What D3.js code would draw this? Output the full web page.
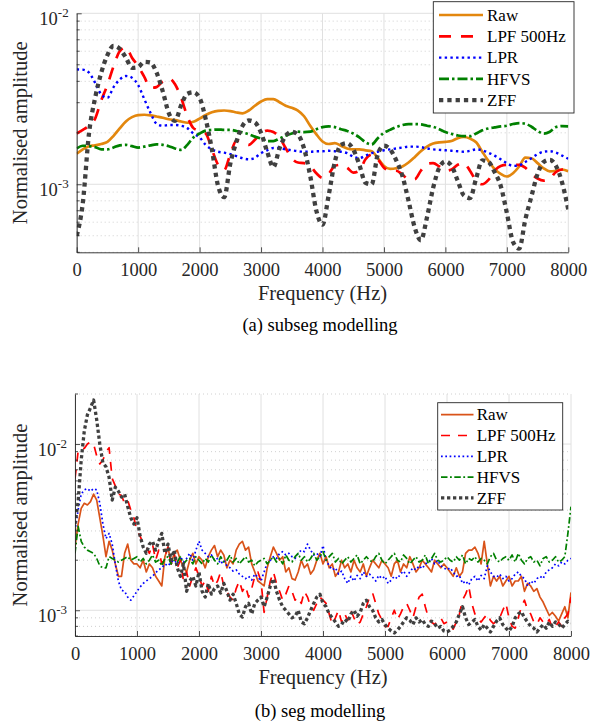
<!DOCTYPE html>
<html>
<head>
<meta charset="utf-8">
<script src="https://cdn.jsdelivr.net/npm/d3@7"></script>
<style>
  body { margin: 0; background: #fff; }
  svg { display: block; }
  text, tspan { font-family: 'Liberation Serif' !important; }
</style>
</head>
<body>
<svg id="chart" width="597" height="723"></svg>
<script>
// all amplitudes are in units of 1e-3
const seriesNames = ["Raw", "LPF 500Hz", "LPR", "HFVS", "ZFF"];
const xTicks = [0, 1000, 2000, 3000, 4000, 5000, 6000, 7000, 8000];

// (a) subseg modelling, sampled every 100 Hz
const topFreq = d3.range(0, 8001, 100);
const topRaw = [1.51, 1.6, 1.67, 1.69, 1.72, 1.77, 1.92, 2.12, 2.33, 2.47, 2.54,
  2.55, 2.53, 2.49, 2.45, 2.4, 2.37, 2.33, 2.29, 2.32, 2.42,
  2.54, 2.64, 2.69, 2.7, 2.68, 2.63, 2.6, 2.7, 2.88, 3.05,
  3.15, 3.15, 3.02, 2.88, 2.8, 2.7, 2.5, 2.2, 1.96, 1.78,
  1.72, 1.74, 1.68, 1.62, 1.6, 1.6, 1.58, 1.56, 1.42, 1.28,
  1.23, 1.24, 1.27, 1.34, 1.44, 1.56, 1.66, 1.73, 1.76, 1.77,
  1.79, 1.86, 1.89, 1.85, 1.76, 1.55, 1.37, 1.23, 1.15, 1.11,
  1.16, 1.27, 1.43, 1.42, 1.33, 1.24, 1.19, 1.2, 1.22, 1.19];
const topLpf = [1.98, 2.08, 2.2, 2.42, 3.1, 3.81, 4.9, 6.0, 6.33, 5.5, 4.9,
  4.25, 3.66, 3.7, 4.0, 4.16, 3.85, 3.2, 2.5, 2.13, 2.05,
  1.98, 1.6, 1.3, 1.21, 1.5, 1.8, 1.78, 1.7, 1.82, 1.98,
  2.06, 2.02, 1.88, 1.63, 1.42, 1.34, 1.33, 1.28, 1.16, 1.09,
  1.15, 1.28, 1.3, 1.25, 1.17, 1.2, 1.4, 1.49, 1.4, 1.25,
  1.2, 1.2, 1.14, 1.07, 1.07, 1.2, 1.32, 1.33, 1.27, 1.2,
  1.22, 1.3, 1.33, 1.2, 1.05, 1.0, 1.06, 1.2, 1.28, 1.3,
  1.3, 1.3, 1.25, 1.15, 1.08, 1.05, 1.08, 1.18, 1.22, 1.22];
const topLpr = [4.7, 4.68, 4.5, 3.92, 3.35, 3.2, 3.7, 4.1, 4.3, 4.2, 3.8,
  3.15, 2.62, 2.26, 2.2, 2.22, 2.22, 2.2, 2.13, 1.98, 1.88,
  1.7, 1.6, 1.55, 1.53, 1.5, 1.46, 1.42, 1.4, 1.43, 1.52,
  1.58, 1.63, 1.63, 1.6, 1.58, 1.56, 1.55, 1.55, 1.56, 1.56,
  1.57, 1.56, 1.55, 1.52, 1.45, 1.42, 1.47, 1.52, 1.55, 1.58,
  1.6, 1.62, 1.64, 1.66, 1.66, 1.65, 1.62, 1.6, 1.59, 1.58,
  1.57, 1.56, 1.55, 1.57, 1.6, 1.58, 1.53, 1.47, 1.4, 1.33,
  1.28, 1.29, 1.35, 1.42, 1.5, 1.55, 1.56, 1.53, 1.47, 1.41];
const topHfvs = [1.62, 1.68, 1.67, 1.65, 1.6, 1.6, 1.64, 1.69, 1.7, 1.67, 1.64,
  1.66, 1.69, 1.71, 1.7, 1.67, 1.62, 1.59, 1.7, 1.88, 1.98,
  2.06, 2.08, 2.09, 2.08, 2.08, 2.05, 2.01, 1.96, 1.9, 1.85,
  1.79, 1.79, 1.85, 1.92, 1.98, 2.03, 2.02, 2.03, 2.1, 2.16,
  2.18, 2.16, 2.1, 2.05, 1.98, 1.88, 1.76, 1.71, 1.86, 2.0,
  2.08, 2.16, 2.22, 2.25, 2.25, 2.24, 2.2, 2.17, 2.1, 2.02,
  1.97, 1.93, 1.91, 1.91, 1.98, 2.07, 2.12, 2.15, 2.18, 2.2,
  2.25, 2.28, 2.26, 2.17, 2.05, 1.98, 2.03, 2.16, 2.19, 2.18];
const topZff = [0.5, 0.78, 1.98, 3.2, 4.5, 5.7, 6.45, 6.2, 5.5, 4.8, 4.85,
  5.2, 5.15, 4.5, 3.5, 2.6, 2.35, 2.9, 3.38, 3.45, 3.2,
  2.4, 1.6, 0.98, 0.84, 1.32, 1.78, 2.2, 2.36, 2.3, 2.0,
  1.55, 1.26, 1.62, 1.92, 2.03, 1.95, 1.62, 1.12, 0.7, 0.58,
  0.86, 1.35, 1.7, 1.74, 1.6, 1.3, 1.02, 1.0, 1.5, 1.68,
  1.6, 1.38, 1.12, 0.8, 0.56, 0.47, 0.64, 0.95, 1.25, 1.36,
  1.28, 1.05, 0.86, 0.83, 1.08, 1.38, 1.35, 1.18, 0.98, 0.68,
  0.46, 0.42, 0.62, 0.85, 1.15, 1.35, 1.39, 1.28, 1.02, 0.71];

// (b) seg modelling, sampled every 50 Hz
const botFreq = d3.range(0, 8001, 50);
const botRaw = [2.4, 3.3, 4.1, 4.4, 4.3, 4.5, 5.0, 4.6, 3.6, 2.8, 2.1, 2.6, 2.3, 1.9, 1.6, 1.6, 2.2, 2.5, 2.0, 1.9, 1.9,
  1.8, 2.0, 1.7, 1.9, 1.8, 1.6, 1.5, 1.4, 2.1, 2.4, 1.9, 2.2, 2.3, 2.0, 1.8, 1.7, 2.0, 2.2, 1.9, 2.1,
  2.0, 1.8, 2.1, 2.3, 2.45, 2.1, 2.3, 2.15, 1.8, 2.0, 1.9, 2.3, 2.5, 2.6, 2.3, 2.4, 1.9, 1.7, 1.5, 1.45,
  1.4, 1.8, 2.1, 2.4, 2.2, 2.0, 2.1, 1.7, 1.8, 1.55, 1.52, 1.7, 2.0, 1.8, 1.9, 1.65, 1.75, 2.0, 2.2, 1.9,
  2.1, 1.8, 1.9, 1.6, 1.7, 2.0, 1.8, 1.9, 1.7, 2.0, 1.8, 1.7, 1.9, 1.6, 1.8, 2.0, 1.9, 1.8, 2.0, 1.9,
  1.8, 1.6, 1.9, 2.0, 1.7, 1.9, 1.8, 2.1, 1.9, 1.7, 1.8, 2.0, 1.9, 1.8, 1.7, 2.0, 1.9, 1.8, 1.9, 1.8,
  1.7, 1.6, 1.8, 1.6, 1.7, 2.2, 2.3, 2.3, 2.4, 2.2, 1.9, 2.6, 1.9, 1.4, 1.6, 1.5, 1.6, 1.4, 1.5, 1.6,
  1.4, 1.5, 1.5, 1.6, 1.3, 1.45, 1.4, 1.3, 1.35, 1.2, 1.12, 1.02, 0.93, 0.97, 0.92, 0.86, 0.95, 1.05, 0.9, 1.28];
const botLpf = [6.2, 9.0, 9.5, 9.4, 10.0, 10.3, 10.0, 8.5, 7.6, 8.0, 9.0, 9.5, 6.2, 5.6, 5.0, 4.9, 4.4, 4.6, 4.0, 3.6, 3.0,
  2.8, 2.5, 2.4, 2.2, 2.5, 2.0, 2.3, 1.9, 2.1, 2.4, 1.9, 2.2, 1.8, 2.0, 1.5, 1.7, 1.4, 1.6, 1.8, 1.6,
  1.4, 1.5, 1.3, 1.6, 1.4, 1.5, 1.7, 1.4, 1.3, 1.2, 1.15, 1.35, 1.5, 1.3, 1.4, 1.2, 1.35, 1.6, 1.7, 1.5,
  0.97, 1.2, 1.5, 1.7, 1.45, 1.3, 1.15, 1.25, 1.4, 1.3, 1.15, 1.2, 1.1, 1.3, 1.2, 1.05, 1.0, 1.1, 1.2, 1.15,
  1.1, 0.95, 0.82, 0.9, 1.0, 0.85, 0.95, 0.87, 1.0, 0.9, 0.82, 0.85, 0.95, 1.05, 1.2, 1.27, 1.1, 0.95, 0.88, 0.8,
  0.8, 0.9, 1.0, 0.88, 0.95, 1.05, 1.1, 1.0, 0.9, 1.05, 1.2, 1.25, 1.05, 0.9, 0.85, 0.82, 0.87, 0.9, 0.83, 0.85,
  0.8, 0.77, 0.85, 0.95, 1.15, 1.25, 1.4, 1.1, 0.95, 0.88, 0.85, 0.9, 0.95, 0.87, 0.83, 0.86, 0.9, 1.0, 1.1, 0.9,
  0.8, 0.78, 0.9, 1.05, 1.15, 1.0, 0.95, 0.85, 0.82, 0.9, 0.85, 0.82, 0.88, 0.78, 0.8, 0.85, 0.8, 0.9, 0.95, 1.2];
const botLpr = [3.0, 4.0, 5.0, 5.3, 5.4, 5.2, 5.4, 5.3, 4.4, 3.3, 2.7, 2.9, 2.5, 1.9, 1.5, 1.32, 1.3, 1.2, 1.15, 1.22, 1.3,
  1.38, 1.45, 1.5, 1.55, 1.6, 1.68, 1.75, 1.8, 1.9, 1.85, 1.95, 2.0, 1.9, 2.1, 1.95, 2.05, 2.2, 2.0, 2.3, 2.6,
  2.3, 2.2, 2.1, 2.15, 2.0, 2.05, 1.9, 2.0, 1.85, 1.8, 1.72, 1.75, 1.65, 1.6, 1.55, 1.6, 1.52, 1.65, 1.58, 1.5,
  1.7, 1.92, 2.0, 2.1, 2.05, 2.2, 2.25, 2.15, 2.2, 2.1, 2.05, 2.2, 2.3, 2.25, 2.5, 2.3, 2.15, 2.2, 2.1, 2.45,
  2.0, 1.85, 1.75, 1.8, 1.65, 1.72, 1.55, 1.45, 1.6, 1.5, 1.62, 1.55, 1.7, 1.6, 1.65, 1.58, 1.5, 1.62, 1.55, 1.6,
  1.45, 1.52, 1.6, 1.55, 1.65, 1.72, 1.6, 1.7, 1.8, 1.75, 1.85, 1.78, 1.9, 1.95, 2.05, 1.9, 2.0, 1.85, 1.8, 1.75,
  1.8, 1.7, 1.6, 1.62, 1.45, 1.5, 1.42, 1.55, 1.6, 1.5, 1.62, 1.55, 1.85, 1.7, 1.6, 1.58, 1.65, 1.55, 1.6, 1.5,
  1.55, 1.65, 1.7, 1.6, 1.55, 1.4, 1.5, 1.45, 1.55, 1.6, 1.55, 1.7, 1.75, 1.8, 1.9, 1.85, 1.95, 1.9, 2.0, 2.05];
const botHfvs = [2.2, 3.2, 2.6, 2.4, 2.3, 2.25, 2.2, 2.05, 1.85, 1.8, 1.8, 2.1, 2.05, 2.0, 1.95, 2.0, 2.05, 2.1, 2.0, 2.05, 2.1,
  1.95, 2.05, 1.9, 2.0, 2.15, 1.95, 2.0, 1.85, 2.05, 2.1, 1.9, 2.0, 1.95, 2.1, 1.9, 2.0, 2.05, 1.9, 2.1, 2.0,
  1.9, 2.05, 1.95, 2.15, 2.0, 1.9, 2.1, 1.95, 2.0, 2.15, 1.95, 2.05, 1.9, 2.0, 2.1, 1.95, 2.0, 1.85, 1.95, 2.0,
  2.05, 1.9, 2.0, 2.1, 1.95, 2.05, 1.9, 2.15, 2.0, 1.95, 2.1, 2.2, 2.0, 2.1, 1.95, 2.05, 2.2, 2.0, 2.1, 2.25,
  2.0, 2.1, 2.2, 1.95, 2.05, 1.9, 2.0, 2.1, 1.95, 2.05, 2.15, 1.9, 2.0, 2.1, 2.0, 1.95, 2.1, 2.2, 2.0, 1.9,
  2.0, 2.1, 2.2, 2.0, 1.95, 2.15, 2.05, 1.9, 2.0, 2.1, 1.95, 2.0, 2.15, 1.9, 2.05, 2.2, 2.0, 1.95, 2.0, 2.1,
  2.0, 1.95, 2.1, 2.0, 2.15, 1.9, 2.05, 2.0, 2.1, 1.95, 2.05, 2.0, 1.9, 2.1, 2.2, 2.0, 1.95, 2.05, 2.1, 2.0,
  2.15, 1.95, 2.2, 2.0, 1.9, 2.05, 2.1, 1.95, 2.0, 1.85, 2.05, 2.1, 1.95, 2.0, 2.1, 1.95, 2.0, 2.1, 2.9, 4.2];
const botZff = [3.3, 4.5, 8.0, 12.0, 15.0, 16.5, 18.4, 14.0, 10.0, 7.7, 7.3, 6.3, 4.6, 5.5, 5.2, 4.8, 5.0, 4.2, 3.6, 3.3, 3.6,
  2.8, 2.4, 2.2, 2.5, 2.6, 2.3, 2.6, 2.9, 2.2, 2.5, 2.0, 2.3, 1.8, 1.6, 1.9, 1.3, 1.5, 1.6, 1.4, 1.7,
  1.3, 1.2, 1.45, 1.25, 1.35, 1.4, 1.27, 1.45, 1.3, 1.15, 1.25, 1.1, 0.95, 0.91, 1.05, 1.1, 0.95, 1.1, 1.15, 1.2,
  1.05, 1.2, 1.4, 1.55, 1.3, 1.15, 1.05, 1.0, 0.95, 0.9, 0.92, 1.0, 0.85, 0.83, 0.9, 1.0, 1.1, 1.2, 1.25, 1.1,
  1.05, 0.95, 0.9, 0.85, 0.8, 0.82, 0.88, 0.85, 0.95, 1.0, 0.92, 0.97, 1.1, 1.15, 1.05, 1.0, 0.9, 0.85, 0.88, 0.82,
  0.78, 0.75, 0.73, 0.76, 0.8, 0.85, 0.9, 0.87, 0.82, 0.9, 0.85, 0.88, 0.82, 0.8, 0.86, 0.83, 0.78, 0.8, 0.75, 0.74,
  0.76, 0.8, 0.85, 0.95, 1.05, 0.9, 0.82, 0.85, 0.88, 0.8, 0.76, 0.82, 0.78, 0.74, 0.8, 0.86, 0.9, 0.82, 0.78, 0.75,
  0.8, 0.9, 0.95, 0.98, 0.9, 0.85, 0.8, 0.78, 0.74, 0.78, 0.82, 0.78, 0.85, 0.8, 0.85, 0.83, 0.78, 0.82, 0.86, 0.84];

// y ticks (in 1e-3 units) and the exponent shown for each major tick
const topYMajor = [1, 10];
const topYMinor = [0.4, 0.5, 0.6, 0.7, 0.8, 0.9, 2, 3, 4, 5, 6, 7, 8, 9];
const botYMajor = [1, 10];
const botYMinor = [0.7, 0.8, 0.9, 2, 3, 4, 5, 6, 7, 8, 9, 20];
const yMajorExp = ["-3", "-2"];

const FONT = "'Liberation Serif'";
const svg = d3.select("#chart");

const panels = [
  {
    id: "a", freq: topFreq, values: [topRaw, topLpf, topLpr, topHfvs, topZff],
    yDomain: [0.4, 10], yMajor: topYMajor, yMinor: topYMinor,
    left: 76.7, right: 568.3, top: 13.3, bottom: 252.3,
    curve: d3.curveMonotoneX,
    styles: [
      { color: "#E3870E", width: 2.7, dash: null },
      { color: "#FF0000", width: 2.7, dash: "12,10" },
      { color: "#0000FF", width: 2.4, dash: "2.4,3.3" },
      { color: "#008000", width: 2.7, dash: "10,3,2.5,3" },
      { color: "#404040", width: 4.3, dash: "4.3,4" }
    ],
    legend: { x: 433.3, y: 1.7, w: 140.7, h: 111.3, rowY: 15, rowGap: 21.3, lx0: 439, lx1: 483, tx: 487 },
    xLabelY: 300, yLabelX: 27, captionY: 331, caption: "(a) subseg modelling"
  },
  {
    id: "b", freq: botFreq, values: [botRaw, botLpf, botLpr, botHfvs, botZff],
    yDomain: [0.7, 20], yMajor: botYMajor, yMinor: botYMinor,
    left: 75, right: 571, top: 394, bottom: 636,
    curve: d3.curveLinear,
    styles: [
      { color: "#D95319", width: 1.7, dash: null },
      { color: "#FF0000", width: 1.7, dash: "9,8" },
      { color: "#0000FF", width: 1.7, dash: "1.7,2.6" },
      { color: "#008000", width: 1.7, dash: "6.5,2.5,1.8,2.5" },
      { color: "#404040", width: 3.3, dash: "3.3,2.7" }
    ],
    legend: { x: 437.7, y: 402.7, w: 125, h: 107.3, rowY: 414.7, rowGap: 20.8, lx0: 441, lx1: 473.5, tx: 476.7 },
    xLabelY: 684, yLabelX: 27, captionY: 717, caption: "(b) seg modelling"
  }
];

panels.forEach(drawPanel);

function addText(parent) {
  return parent.append("text")
    .attr("font-family", "Liberation Serif")
    .style("font-family", FONT);
}

function drawPanel(p) {
  const x = d3.scaleLinear().domain([0, 8000]).range([p.left, p.right]);
  const y = d3.scaleLog().domain(p.yDomain).range([p.bottom, p.top]);
  const g = svg.append("g");

  // minor grid (dotted)
  g.append("g").selectAll("line")
    .data(p.yMinor).enter().append("line")
    .attr("x1", p.left).attr("x2", p.right)
    .attr("y1", d => y(d)).attr("y2", d => y(d))
    .attr("stroke", "#c4c4c4").attr("stroke-width", 0.8)
    .attr("stroke-dasharray", "1,3");

  // major grid
  g.append("g").selectAll("line")
    .data(xTicks).enter().append("line")
    .attr("x1", d => x(d)).attr("x2", d => x(d))
    .attr("y1", p.top).attr("y2", p.bottom)
    .attr("stroke", "#e0e0e0").attr("stroke-width", 1);
  g.append("g").selectAll("line")
    .data(p.yMajor).enter().append("line")
    .attr("x1", p.left).attr("x2", p.right)
    .attr("y1", d => y(d)).attr("y2", d => y(d))
    .attr("stroke", "#e0e0e0").attr("stroke-width", 1);

  // curves
  g.append("clipPath").attr("id", "clip-" + p.id)
    .append("rect")
    .attr("x", p.left).attr("y", p.top)
    .attr("width", p.right - p.left).attr("height", p.bottom - p.top);

  const line = d3.line()
    .x((d, i) => x(p.freq[i]))
    .y(d => y(d))
    .curve(p.curve);

  g.append("g").attr("clip-path", `url(#clip-${p.id})`)
    .selectAll("path")
    .data(p.values).enter().append("path")
    .attr("d", d => line(d))
    .attr("fill", "none")
    .attr("stroke", (d, i) => p.styles[i].color)
    .attr("stroke-width", (d, i) => p.styles[i].width)
    .attr("stroke-dasharray", (d, i) => p.styles[i].dash)
    .attr("stroke-linejoin", "round");

  // axes
  const xAxis = g.append("g")
    .attr("transform", `translate(0,${p.bottom})`)
    .call(d3.axisBottom(x).tickValues(xTicks).tickFormat(d3.format("d"))
      .tickSize(-5).tickSizeOuter(0).tickPadding(11));

  const yAxis = g.append("g")
    .attr("transform", `translate(${p.left},0)`)
    .call(d3.axisLeft(y).tickValues(p.yMajor).tickSize(-5).tickSizeOuter(0).tickPadding(8));

  // minor ticks on the y axis
  g.append("g").selectAll("line")
    .data(p.yMinor).enter().append("line")
    .attr("x1", p.left).attr("x2", p.left + 3)
    .attr("y1", d => y(d)).attr("y2", d => y(d))
    .attr("stroke", "#262626").attr("stroke-width", 0.8);

  [xAxis, yAxis].forEach(a => {
    a.attr("font-family", "Liberation Serif").attr("font-size", 18.5);
    a.select(".domain").attr("stroke", "#262626").attr("stroke-width", 0.9);
    a.selectAll(".tick line").attr("stroke", "#262626").attr("stroke-width", 0.8);
    a.selectAll(".tick text").attr("fill", "#262626")
      .style("font-family", FONT).style("font-size", "18.5px");
  });

  yAxis.selectAll(".tick text").each(function (d, i) {
    const t = d3.select(this).text(null).attr("dy", "11px");
    t.append("tspan").text("10");
    t.append("tspan").attr("dy", "-8").style("font-size", "13px").text(yMajorExp[i]);
  });

  // axis labels
  addText(svg)
    .attr("x", (p.left + p.right) / 2).attr("y", p.xLabelY)
    .attr("text-anchor", "middle")
    .attr("fill", "#262626")
    .style("font-size", "20.5px")
    .text("Frequency (Hz)");

  addText(svg)
    .attr("transform", `translate(${p.yLabelX},${(p.top + p.bottom) / 2}) rotate(-90)`)
    .attr("text-anchor", "middle")
    .attr("fill", "#262626")
    .style("font-size", "20.5px")
    .text("Normalised amplitude");

  addText(svg)
    .attr("x", 320).attr("y", p.captionY)
    .attr("text-anchor", "middle")
    .attr("fill", "#000")
    .style("font-size", "18.5px")
    .text(p.caption);

  // legend
  const L = p.legend;
  const legend = svg.append("g");
  legend.append("rect")
    .attr("x", L.x).attr("y", L.y).attr("width", L.w).attr("height", L.h)
    .attr("fill", "#fff").attr("stroke", "#262626").attr("stroke-width", 0.9);

  const rows = legend.selectAll("g.row")
    .data(seriesNames).enter().append("g")
    .attr("class", "row")
    .attr("transform", (d, i) => `translate(0,${L.rowY + i * L.rowGap})`);

  rows.append("line")
    .attr("x1", L.lx0).attr("x2", L.lx1)
    .attr("stroke", (d, i) => p.styles[i].color)
    .attr("stroke-width", (d, i) => p.styles[i].width)
    .attr("stroke-dasharray", (d, i) => p.styles[i].dash);

  rows.each(function (d) {
    addText(d3.select(this))
      .attr("x", L.tx).attr("dy", "0.33em")
      .attr("fill", "#000")
      .style("font-size", "17px")
      .text(d);
  });
}
</script>
</body>
</html>
